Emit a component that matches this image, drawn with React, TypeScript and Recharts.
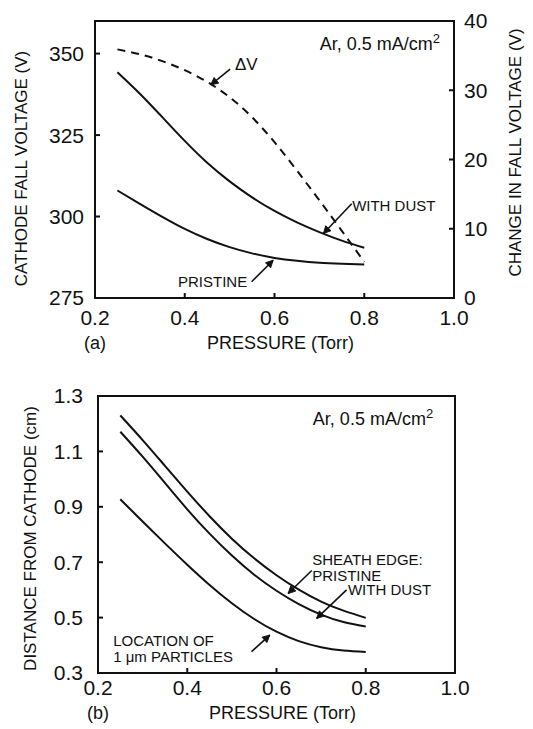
import React from 'react';
import { LineChart, Line, XAxis, YAxis, ReferenceLine, ReferenceDot, ReferenceArea } from 'recharts';

const FONT = "'Liberation Sans', Arial, Helvetica, sans-serif";
const INK = '#111';

// pressure (Torr) where the curves were sampled
const pressure = [0.25, 0.3, 0.35, 0.4, 0.45, 0.5, 0.55, 0.6, 0.65, 0.7, 0.75, 0.8];

// (a) cathode fall voltage (V), left axis
const fallWithDust = [344.3, 337.7, 330.5, 323.2, 316.5, 310.8, 305.9, 301.7, 298.2, 295.2, 292.6, 290.4];
const fallPristine = [308, 303.9, 299.9, 296.2, 293.1, 290.6, 288.7, 287.3, 286.4, 285.8, 285.5, 285.3];
// (a) change in fall voltage (V), right axis
const deltaV = [35.9, 35.2, 34.2, 32.9, 31.2, 29.0, 26.1, 22.5, 18.4, 14.1, 9.7, 5.2];

// (b) distance from cathode (cm)
const sheathPristine = [1.23, 1.141, 1.048, 0.955, 0.866, 0.785, 0.714, 0.653, 0.601, 0.558, 0.525, 0.499];
const sheathWithDust = [1.171, 1.081, 0.986, 0.891, 0.803, 0.724, 0.655, 0.597, 0.549, 0.511, 0.484, 0.468];
const particles = [0.927, 0.847, 0.768, 0.691, 0.618, 0.552, 0.495, 0.449, 0.415, 0.393, 0.381, 0.376];

const pressureTicks = [0.2, 0.4, 0.6, 0.8, 1.0];
const fallTicks = [275, 300, 325, 350];
const deltaTicks = [0, 10, 20, 30, 40];
const distanceTicks = [0.3, 0.5, 0.7, 0.9, 1.1, 1.3];

const dataA = pressure.map((p, i) => ({
  p,
  withDust: fallWithDust[i],
  pristine: fallPristine[i],
  dv: deltaV[i],
}));

const dataB = pressure.map((p, i) => ({
  p,
  pristine: sheathPristine[i],
  withDust: sheathWithDust[i],
  particles: particles[i],
}));

// text notes and arrows, in data units
const notesA = [
  { x: 0.512, y: 346.8, lines: ['\u0394V'], size: 17 },
  { x: 0.773, y: 303.4, lines: ['WITH DUST'], size: 15 },
  { x: 0.385, y: 279.9, lines: ['PRISTINE'], size: 15 },
];
const arrowsA = [
  { from: [0.501, 345.2], to: [0.458, 340.4] },
  { from: [0.772, 303.9], to: [0.709, 294.8] },
  { from: [0.549, 280], to: [0.597, 286.6] },
];
const notesB = [
  { x: 0.68, y: 0.708, lines: ['SHEATH EDGE:', 'PRISTINE'], size: 15 },
  { x: 0.76, y: 0.6, lines: ['WITH DUST'], size: 15 },
  { x: 0.234, y: 0.416, lines: ['LOCATION OF', '1 \u03bcm PARTICLES'], size: 15 },
];
const arrowsB = [
  { from: [0.679, 0.67], to: [0.626, 0.587] },
  { from: [0.757, 0.6], to: [0.69, 0.497] },
  { from: [0.544, 0.377], to: [0.585, 0.437] },
];

const fmt1 = (v: number) => v.toFixed(1);
const frame = { stroke: INK, strokeWidth: 2 };
const tickText = { fill: INK, fontSize: 21, fontFamily: FONT };

function XTitle(props: any) {
  const { viewBox, tag, gap } = props;
  const y = viewBox.y + gap;
  return (
    <g fontFamily={FONT} fill={INK} fontSize={18}>
      <text x={viewBox.x} y={y} textAnchor="middle" dominantBaseline="central">{tag}</text>
      <text x={viewBox.x + viewBox.width / 2 + 6} y={y} textAnchor="middle" dominantBaseline="central">
        PRESSURE (Torr)
      </text>
    </g>
  );
}

function YTitle(props: any) {
  const { viewBox, text, dx, dy } = props;
  const x = viewBox.x + dx;
  const y = viewBox.y + viewBox.height / 2 + dy;
  return (
    <text
      x={x}
      y={y}
      transform={`rotate(-90 ${x} ${y})`}
      textAnchor="middle"
      dominantBaseline="central"
      fontSize={17}
      fontFamily={FONT}
      fill={INK}
    >
      {text}
    </text>
  );
}

function Note(props: any) {
  const { viewBox, lines, size } = props;
  const x = viewBox.x;
  return (
    <text x={x} y={viewBox.y} fontSize={size} fontFamily={FONT} fill={INK}>
      {lines.map((l: string, i: number) => (
        <tspan key={i} x={x} dy={i === 0 ? size * 0.36 : 16}>
          {l}
        </tspan>
      ))}
    </text>
  );
}

function CurrentNote(props: any) {
  const { viewBox } = props;
  return (
    <text x={viewBox.x} y={viewBox.y + 6} textAnchor="end" fontSize={18} fontFamily={FONT} fill={INK}>
      Ar, 0.5 mA/cm<tspan dy={-7} fontSize={13}>2</tspan>
    </text>
  );
}

function ArrowDef({ id }: { id: string }) {
  return (
    <defs>
      <marker id={id} viewBox="0 0 10 10" refX="9" refY="5" markerWidth="9" markerHeight="9" markerUnits="userSpaceOnUse" orient="auto">
        <path d="M1,1 L9,5 L1,9 Z" fill={INK} stroke={INK} strokeWidth={1} />
      </marker>
    </defs>
  );
}

function PanelA() {
  return (
    <LineChart width={533} height={360} data={dataA} margin={{ top: 20, right: 0, bottom: 22, left: 0 }}>
      <ArrowDef id="arrowA" />
      <XAxis
        dataKey="p"
        type="number"
        domain={[0.2, 1]}
        ticks={pressureTicks}
        tickFormatter={fmt1}
        interval={0}
        height={40}
        tickSize={-5}
        tickMargin={17}
        axisLine={frame}
        tickLine={frame}
        tick={tickText}
        label={<XTitle tag="(a)" gap={45} />}
      />
      <XAxis
        xAxisId="top"
        orientation="top"
        dataKey="p"
        type="number"
        domain={[0.2, 1]}
        allowDataOverflow
        ticks={pressureTicks}
        height={1}
        tick={false}
        tickSize={-5}
        axisLine={frame}
        tickLine={frame}
      />
      <YAxis
        yAxisId="left"
        type="number"
        domain={[275, 360]}
        ticks={fallTicks}
        interval={0}
        width={95}
        tickSize={-5}
        tickMargin={16}
        axisLine={frame}
        tickLine={frame}
        tick={tickText}
        label={<YTitle text="CATHODE FALL VOLTAGE (V)" dx={21} dy={9} />}
      />
      <YAxis
        yAxisId="right"
        orientation="right"
        type="number"
        domain={[0, 40]}
        ticks={deltaTicks}
        interval={0}
        width={79}
        tickSize={-5}
        tickMargin={15}
        axisLine={frame}
        tickLine={frame}
        tick={tickText}
        label={<YTitle text="CHANGE IN FALL VOLTAGE (V)" dx={61} dy={-7} />}
      />
      <ReferenceArea yAxisId="left" x1={0.2} x2={1} y1={275} y2={360} fill="none" stroke={INK} strokeWidth={2} />
      <Line yAxisId="left" dataKey="withDust" type="natural" stroke={INK} strokeWidth={2} dot={false} activeDot={false} isAnimationActive={false} />
      <Line yAxisId="left" dataKey="pristine" type="natural" stroke={INK} strokeWidth={2} dot={false} activeDot={false} isAnimationActive={false} />
      <Line yAxisId="right" dataKey="dv" type="natural" stroke={INK} strokeWidth={2} strokeDasharray="8 6" dot={false} activeDot={false} isAnimationActive={false} />
      <ReferenceDot yAxisId="left" x={0.969} y={353} r={0} label={<CurrentNote />} />
      {notesA.map((n, i) => (
        <ReferenceDot key={'na' + i} yAxisId="left" x={n.x} y={n.y} r={0} label={<Note lines={n.lines} size={n.size} />} />
      ))}
      {arrowsA.map((a, i) => (
        <ReferenceLine
          key={'aa' + i}
          yAxisId="left"
          segment={[{ x: a.from[0], y: a.from[1] }, { x: a.to[0], y: a.to[1] }]}
          stroke={INK}
          strokeWidth={1.6}
          markerEnd="url(#arrowA)"
        />
      ))}
    </LineChart>
  );
}

function PanelB() {
  return (
    <LineChart width={533} height={360} data={dataB} margin={{ top: 26, right: 0, bottom: 16, left: 0 }}>
      <ArrowDef id="arrowB" />
      <XAxis
        dataKey="p"
        type="number"
        domain={[0.2, 1]}
        ticks={pressureTicks}
        tickFormatter={fmt1}
        interval={0}
        height={40}
        tickSize={-5}
        tickMargin={12}
        axisLine={frame}
        tickLine={frame}
        tick={tickText}
        label={<XTitle tag="(b)" gap={40} />}
      />
      <XAxis
        xAxisId="top"
        orientation="top"
        dataKey="p"
        type="number"
        domain={[0.2, 1]}
        allowDataOverflow
        ticks={pressureTicks}
        height={1}
        tick={false}
        tickSize={-5}
        axisLine={frame}
        tickLine={frame}
      />
      <YAxis
        type="number"
        domain={[0.3, 1.3]}
        ticks={distanceTicks}
        tickFormatter={fmt1}
        interval={0}
        width={98}
        tickSize={-5}
        tickMargin={20}
        axisLine={frame}
        tickLine={frame}
        tick={tickText}
        label={<YTitle text="DISTANCE FROM CATHODE (cm)" dx={30} dy={4} />}
      />
      <YAxis
        yAxisId="edge"
        orientation="right"
        type="number"
        domain={[0.3, 1.3]}
        allowDataOverflow
        ticks={distanceTicks}
        interval={0}
        width={78}
        tick={false}
        tickSize={-5}
        axisLine={frame}
        tickLine={frame}
      />
      <ReferenceArea x1={0.2} x2={1} y1={0.3} y2={1.3} fill="none" stroke={INK} strokeWidth={2} />
      <Line dataKey="pristine" type="natural" stroke={INK} strokeWidth={2} dot={false} activeDot={false} isAnimationActive={false} />
      <Line dataKey="withDust" type="natural" stroke={INK} strokeWidth={2} dot={false} activeDot={false} isAnimationActive={false} />
      <Line dataKey="particles" type="natural" stroke={INK} strokeWidth={2} dot={false} activeDot={false} isAnimationActive={false} />
      <ReferenceDot x={0.951} y={1.217} r={0} label={<CurrentNote />} />
      {notesB.map((n, i) => (
        <ReferenceDot key={'nb' + i} x={n.x} y={n.y} r={0} label={<Note lines={n.lines} size={n.size} />} />
      ))}
      {arrowsB.map((a, i) => (
        <ReferenceLine
          key={'ab' + i}
          segment={[{ x: a.from[0], y: a.from[1] }, { x: a.to[0], y: a.to[1] }]}
          stroke={INK}
          strokeWidth={1.6}
          markerEnd="url(#arrowB)"
        />
      ))}
    </LineChart>
  );
}

export default function App() {
  return (
    <div style={{ position: 'absolute', left: 0, top: 0, width: 533, height: 729, background: '#fff', fontFamily: FONT }}>
      <div style={{ position: 'absolute', left: 0, top: 0 }}>
        <PanelA />
      </div>
      <div style={{ position: 'absolute', left: 0, top: 369 }}>
        <PanelB />
      </div>
    </div>
  );
}
